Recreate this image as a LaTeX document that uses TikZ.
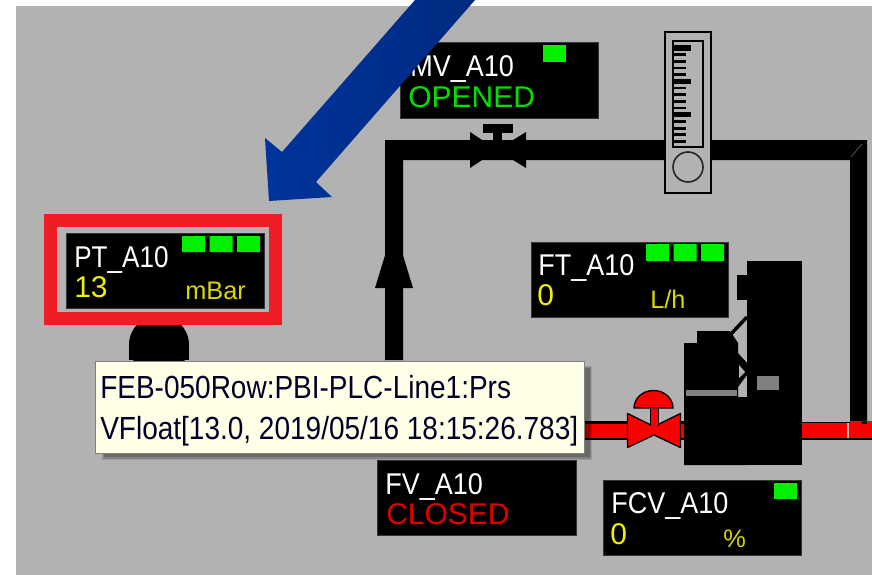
\documentclass[tikz,border=0pt]{standalone}
\usepackage{fontspec}
\setmainfont{Liberation Sans}
\newfontfamily\hmifont[FakeStretch=0.9]{Liberation Sans}
\newfontfamily\hminarrow[FakeStretch=0.87]{Liberation Sans}
\newfontfamily\tipfont[FakeStretch=0.875]{Liberation Sans}
\definecolor{panelgray}{HTML}{B2B2B2}
\definecolor{ledgreen}{HTML}{00F000}
\definecolor{okgreen}{HTML}{00E000}
\definecolor{alarmred}{HTML}{EE1C25}
\definecolor{pipered}{HTML}{FA0000}
\definecolor{arrowblue}{HTML}{00339C}
\definecolor{arrowdark}{HTML}{002A80}
\definecolor{tipfill}{HTML}{FFFFE8}
\definecolor{valyellow}{HTML}{F0F000}
\definecolor{closedred}{HTML}{E00000}
\definecolor{midgray}{HTML}{808080}
\tikzset{
  blackbox/.style={fill=black,draw=black!70!panelgray,line width=0.5pt},
  led/.style={fill=ledgreen},
  tagtext/.style={anchor=base west,inner sep=0pt,text=white,font=\hmifont\fontsize{22.5}{26}\selectfont},
  valtext/.style={anchor=base west,inner sep=0pt,text=valyellow,font=\fontsize{22.5}{26}\selectfont},
  unittext/.style={anchor=base west,inner sep=0pt,text=valyellow!90!black,font=\fontsize{19}{22}\selectfont},
  tiptext/.style={anchor=base west,inner sep=0pt,text=black!85!blue,font=\tipfont\fontsize{24}{28}\selectfont},
}
\begin{document}
\begin{tikzpicture}[x=0.75pt,y=-0.75pt]
\useasboundingbox (0,0) rectangle (872,575);
\fill[white] (0,0) rectangle (872,575);
\fill[panelgray] (16,6) rectangle (872,575);
% black pipe
\fill[black] (385,360) -- (385,140) -- (867,140) -- (867,424) -- (850,424) -- (850,160) -- (403,160) -- (403,360) -- cycle;
\draw[black!55,line width=0.4pt] (851,157) -- (862,144);
% flow arrowhead
\fill[black] (375,288) -- (394,226) -- (413,288) -- cycle;
% MV valve
\fill[black] (470,132) -- (497,150) -- (470,168) -- cycle;
\fill[black] (526,132) -- (497,150) -- (526,168) -- cycle;
\fill[black] (493,128) rectangle (502,152);
\fill[black] (483,124) rectangle (513,133);
% rotameter
\draw[black,fill=panelgray,line width=1.5pt] (664.5,32) rectangle (710.5,193);
\draw[black,line width=1.5pt] (672.5,40.5) rectangle (702.5,147);
\foreach \k in {0,...,14}{
  \draw[black,line width=2.2pt] (673,{48+\k*6.67}) -- (686,{48+\k*6.67});
}
\foreach \k in {0,1,2}{
  \draw[black,line width=4pt] (673,{48+\k*33.4}) -- (691,{48+\k*33.4});
}
\draw[black!85,line width=1.2pt] (688,167) circle (15);
% red pipe
\fill[black] (580,421) rectangle (630,440);
\fill[pipered] (580,423.5) rectangle (630,437.5);
\fill[black] (678,421) rectangle (690,440);
\fill[pipered] (678,423.5) rectangle (684,437.5);
\fill[black] (800,421.5) rectangle (872,439.5);
\fill[pipered] (800,423) rectangle (872,438);
\fill[pipered] (850,421) rectangle (872,438);
\fill[black] (862,421) rectangle (867,424);
\draw[white!70!pipered,line width=0.9pt] (848,423) -- (848,438);
% actuator
\fill[black] (747,261) rectangle (802,465);
\fill[black] (737,275) rectangle (747,300);
\fill[black] (684,465) -- (684,343) -- (697,343) -- (697,331) -- (730,331) -- (738,343) -- (738,397) -- (747,397) -- (747,465) -- cycle;
\draw[black,line width=2.6pt] (730,335) -- (747,317);
\fill[black] (738,353) -- (747,363) -- (747,375) -- (738,387) -- cycle;
\fill[panelgray] (739,365) -- (745,372) -- (739,378) -- cycle;
\fill[midgray] (686,390) rectangle (737,396);
\fill[midgray] (757,376) rectangle (779,390);
% red valve
\draw[black,fill=pipered,line width=1pt,line join=round] (627.5,413.5) -- (654,426.5) -- (680.5,413.5) -- (680.5,447.5) -- (654,435) -- (627.5,447.5) -- cycle;
\draw[black,line width=1pt] (650.5,408) -- (650.5,426) (658,408) -- (658,426);
\fill[pipered] (651,409) rectangle (657.5,432);
\draw[black,fill=pipered,line width=1pt] (634,408) arc[start angle=180,end angle=360,x radius=19.5,y radius=17.5] -- cycle;
% PT panel
\fill[black] (159,345) circle (30);
\fill[black] (129,345) rectangle (189,360);
\draw[alarmred,line width=9.75pt] (50.5,220) rectangle (275.5,318.5);
\node[blackbox,minimum width=148.5pt,minimum height=56.25pt,inner sep=0pt,anchor=north west] (ptbox) at (66,233) {};
\node[tagtext,font=\hminarrow\fontsize{22.5}{26}\selectfont] (pttag) at (74,267) {PT\_A10};
\node[valtext] (ptval) at (74,297) {13};
\node[unittext] (ptunit) at (185,299) {mBar};
\fill[led] (182,236) rectangle (205,252) (209.5,236) rectangle (232.5,252) (237,236) rectangle (260,252);
% MV panel
\node[blackbox,minimum width=148.5pt,minimum height=57pt,inner sep=0pt,anchor=north west] (mvbox) at (400,42) {};
\node[tagtext] (mvtag) at (410,76) {MV\_A10};
\node[valtext,text=okgreen] (mvval) at (408,107) {OPENED};
\fill[led] (543,45) rectangle (566,62);
% FT panel
\node[blackbox,minimum width=147.75pt,minimum height=56.25pt,inner sep=0pt,anchor=north west] (ftbox) at (531,242) {};
\node[tagtext] (fttag) at (538,275) {FT\_A10};
\node[valtext] (ftval) at (537,305) {0};
\node[unittext] (ftunit) at (650,308) {L/h};
\fill[led] (646,244) rectangle (669,261) (673.5,244) rectangle (696.5,261) (701,244) rectangle (724,261);
% FCV panel
\node[blackbox,minimum width=148.5pt,minimum height=56.25pt,inner sep=0pt,anchor=north west] (fcvbox) at (603,480) {};
\node[tagtext] (fcvtag) at (611,513) {FCV\_A10};
\node[valtext] (fcvval) at (610,544) {0};
\node[unittext] (fcvunit) at (723,547) {\%};
\fill[led] (774,483) rectangle (797,499);
% FV panel
\node[blackbox,minimum width=149.25pt,minimum height=56.25pt,inner sep=0pt,anchor=north west] (fvbox) at (377,460) {};
\node[tagtext] (fvtag) at (385,494) {FV\_A10};
\node[valtext,text=closedred] (fvval) at (386,524) {CLOSED};
% tooltip
\fill[black,opacity=0.12] (102,366) rectangle (592,460);
\fill[black,opacity=0.15] (103,367) rectangle (591,459);
\fill[black,opacity=0.2] (104,368) rectangle (590,457);
\node[minimum width=366.75pt,minimum height=69pt,inner sep=0pt,anchor=north west,fill=tipfill,draw=black!50,line width=1pt] (tipbox) at (95,361) {};
\node[tiptext] (tip1) at (100,398) {FEB-050Row:PBI-PLC-Line1:Prs};
\node[tiptext] (tip2) at (100,439) {VFloat[13.0, 2019/05/16 18:15:26.783]};
% blue arrow
\shade[left color=arrowblue,right color=arrowdark] (415,0) -- (282,152) -- (265,138) -- (269,201) -- (332,197) -- (316,182) -- (475,0) -- cycle;
\end{tikzpicture}
\end{document}
